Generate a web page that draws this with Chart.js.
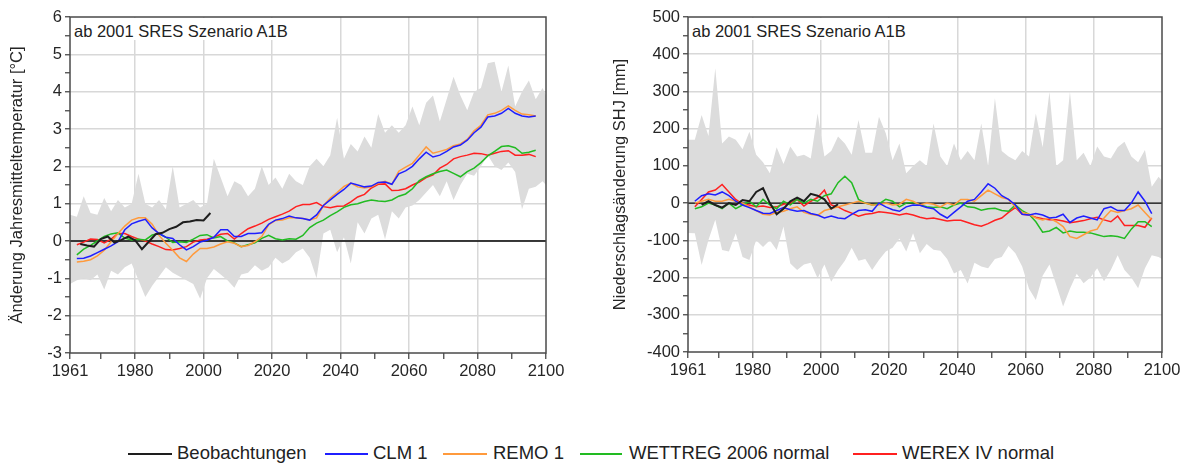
<!DOCTYPE html>
<html><head><meta charset="utf-8">
<script src="https://cdn.jsdelivr.net/npm/chart.js@4.4.1/dist/chart.umd.min.js"></script>
<style>
html,body{margin:0;padding:0;background:#fff;}
body{width:1185px;height:464px;overflow:hidden;position:relative;font-family:"Liberation Sans",Arial,sans-serif;color:#222;}
canvas{position:absolute;top:0;}
#c1{left:0;}
#c2{left:600px;}
.note{position:absolute;top:18px;height:22px;box-sizing:border-box;background:#fff;font-size:16.5px;line-height:20px;padding:3px 4px 0 3px;white-space:nowrap;color:#222;}
.lg-line{position:absolute;top:453px;height:2px;}
.lg-text{position:absolute;top:443px;font-size:18.5px;line-height:20px;white-space:nowrap;color:#222;}
</style>
</head><body>
<canvas id="c1" width="580" height="400"></canvas>
<canvas id="c2" width="585" height="400"></canvas>
<div class="note" style="left:71px;width:229px;">ab 2001 SRES Szenario A1B</div>
<div class="note" style="left:689px;width:228px;">ab 2001 SRES Szenario A1B</div>
<div id="legend"></div>
<script>
// ---------- categories ----------
const lineYears = []; for (let y = 1963; y <= 2097; y += 2) lineYears.push(y);
const bandYears = []; for (let y = 1961; y <= 2099; y += 2) bandYears.push(y); bandYears.push(2100);
const obsYearsT = []; for (let y = 1964; y <= 2002; y += 2) obsYearsT.push(y);
const obsYearsP = []; for (let y = 1965; y <= 2005; y += 2) obsYearsP.push(y);

const seriesNames = ["Beobachtungen", "CLM 1", "REMO 1", "WETTREG 2006 normal", "WEREX IV normal"];
const xTickLabels = [1961, 1980, 2000, 2020, 2040, 2060, 2080, 2100];

// ---------- temperature (left) ----------
const obsT = [-0.08,-0.12,-0.15,0.05,0.12,-0.04,0.03,0.12,0.02,-0.22,
  -0.02,0.18,0.22,0.32,0.38,0.50,0.52,0.56,0.55,0.75];
const clmT = [-0.47,-0.46,-0.40,-0.31,-0.22,-0.13,-0.02,0.30,0.46,0.53,
  0.58,0.35,0.20,0.10,0.07,-0.10,-0.24,-0.15,-0.03,0.02,
  0.10,0.30,0.30,0.12,0.12,0.20,0.20,0.22,0.45,0.56,
  0.60,0.67,0.62,0.60,0.56,0.70,0.95,1.10,1.25,1.38,
  1.55,1.50,1.45,1.47,1.57,1.58,1.52,1.80,1.88,2.00,
  2.20,2.38,2.25,2.30,2.40,2.52,2.57,2.70,2.90,3.05,
  3.32,3.35,3.42,3.55,3.42,3.35,3.32,3.35];
const remoT = [-0.56,-0.54,-0.50,-0.40,-0.25,-0.02,0.20,0.40,0.56,0.62,
  0.62,0.45,0.15,-0.06,-0.25,-0.45,-0.55,-0.35,-0.20,-0.20,
  -0.16,-0.08,-0.02,-0.06,-0.15,-0.12,-0.02,0.12,0.43,0.55,
  0.56,0.62,0.62,0.60,0.56,0.62,0.95,1.15,1.30,1.46,
  1.55,1.45,1.42,1.45,1.55,1.60,1.52,1.87,1.98,2.08,
  2.30,2.52,2.35,2.40,2.45,2.55,2.60,2.72,2.95,3.10,
  3.38,3.42,3.50,3.62,3.50,3.40,3.38,3.35];
const wettT = [-0.37,-0.22,-0.12,0.00,0.12,0.19,0.22,0.08,0.03,0.05,
  0.03,0.16,0.20,0.10,-0.04,-0.02,-0.04,0.05,0.15,0.17,
  0.08,0.12,0.00,-0.05,-0.15,-0.10,-0.05,0.07,0.15,0.06,
  0.03,0.06,0.05,0.15,0.36,0.48,0.56,0.68,0.78,0.90,
  0.97,1.00,1.06,1.10,1.07,1.06,1.10,1.20,1.26,1.40,
  1.62,1.72,1.80,1.86,1.90,1.81,1.72,1.86,1.95,2.10,
  2.28,2.40,2.53,2.55,2.50,2.35,2.38,2.43];
const werexT = [-0.10,-0.03,0.05,0.04,-0.05,0.05,0.20,0.20,0.12,0.05,
  0.00,-0.08,-0.15,-0.23,-0.24,-0.20,-0.15,-0.03,0.03,0.05,
  0.10,0.18,0.20,0.05,0.20,0.33,0.40,0.48,0.58,0.65,
  0.72,0.80,0.92,0.98,0.98,1.03,0.92,0.89,0.93,0.94,
  1.05,1.18,1.25,1.42,1.52,1.53,1.35,1.36,1.40,1.50,
  1.58,1.70,1.77,1.95,2.05,2.20,2.26,2.30,2.35,2.34,
  2.30,2.35,2.40,2.42,2.30,2.30,2.32,2.26];
const bandHiT = [0.70,0.65,1.20,0.75,0.70,1.15,0.80,1.10,0.90,1.00,
  1.80,1.00,0.90,1.10,0.85,2.00,0.90,1.00,1.10,0.90,
  1.00,2.20,1.70,1.20,1.60,1.50,1.20,1.40,2.00,1.50,
  1.70,1.40,1.80,1.60,1.50,2.00,2.20,2.00,2.30,3.30,
  2.20,2.60,2.40,2.80,2.50,3.40,2.90,3.10,2.90,3.10,
  3.60,3.10,3.70,3.90,3.20,3.80,4.40,3.90,3.50,4.00,
  4.10,4.76,4.80,4.00,4.70,3.60,4.00,4.30,3.80,4.10,3.90];
const bandLoT = [-1.15,-1.05,-1.00,-1.05,-0.90,-1.30,-0.80,-0.90,-0.70,-0.60,
  -1.05,-1.50,-1.20,-0.95,-0.70,-0.85,-0.95,-1.05,-1.15,-1.55,
  -1.00,-0.75,-0.90,-1.05,-1.25,-0.90,-0.85,-0.65,-0.80,-0.70,
  -0.45,-0.60,-0.50,-0.30,-0.20,-0.45,-1.00,0.20,0.30,-0.30,
  0.10,-0.60,0.50,0.20,0.60,0.70,0.05,0.80,0.60,0.90,
  0.95,1.10,1.30,1.50,1.20,1.60,1.10,1.50,1.80,1.75,
  2.00,2.30,2.00,1.90,2.10,1.85,0.85,1.40,1.45,1.60,1.50];

// ---------- precipitation (right) ----------
const obsP = [-5,5,-5,-12,0,-5,8,5,30,40,0,-30,-15,5,15,5,25,20,10,-15,-3];
const clmP = [5,20,25,22,30,20,5,-5,-12,-20,
  -27,-28,-20,-12,-18,-22,-20,-28,-32,-40,
  -35,-40,-42,-30,-20,-18,-22,0,-10,-18,
  -22,-10,-5,-6,-12,-15,-30,-40,-25,-10,
  5,10,30,52,40,20,10,-5,-30,-32,
  -28,-32,-40,-38,-30,-52,-40,-35,-40,-45,
  -15,-10,-20,-20,0,30,5,-28];
const remoP = [0,5,10,5,5,10,5,0,-10,-20,
  -30,-32,-25,-22,-15,-10,-25,-30,-33,-20,
  -15,-10,-5,0,5,0,-5,-5,0,-5,
  -3,10,5,-5,0,-3,-10,0,-5,10,
  10,5,20,35,25,15,10,-10,-25,-30,
  -40,-45,-40,-50,-63,-90,-95,-85,-75,-70,
  -40,-20,-25,-20,-15,-5,-25,-45];
const wettP = [-15,-10,0,-5,-15,0,-15,-5,5,-10,
  10,-5,-15,5,-5,10,0,10,5,20,
  25,55,72,55,10,0,-5,-2,10,5,
  -10,0,2,-5,-10,-12,-10,-15,-5,0,
  -10,-12,-19,-15,-14,-20,-22,-5,-20,-30,
  -50,-78,-75,-65,-80,-75,-78,-78,-80,-85,
  -90,-88,-90,-95,-70,-50,-50,-63];
const werexP = [-10,10,30,35,50,30,10,-3,-5,-10,
  -8,-12,-10,-3,0,10,-8,5,15,35,
  -5,-10,-20,-27,-35,-30,-28,-23,-25,-28,
  -32,-28,-32,-38,-42,-40,-44,-48,-46,-46,
  -52,-58,-62,-55,-46,-40,-25,-12,-30,-32,
  -38,-42,-45,-45,-48,-53,-50,-47,-42,-38,
  -45,-50,-35,-60,-60,-60,-65,-40];
const bandHiP = [170,170,237,180,362,160,179,170,145,192,
  130,110,80,150,105,152,125,130,120,241,
  125,140,179,160,130,223,135,135,232,188,
  115,160,80,100,115,100,214,125,100,160,
  115,140,115,214,100,282,140,125,115,140,
  125,241,150,299,100,115,299,115,135,100,
  152,125,120,150,165,125,110,143,44,71,60];
const bandLoP = [-80,-81,-166,-99,-45,-126,-130,-81,-145,-153,
  -100,-118,-100,-126,-63,-162,-180,-165,-160,-202,
  -165,-211,-180,-155,-120,-155,-150,-180,-153,-130,
  -120,-95,-130,-81,-135,-110,-125,-128,-150,-189,
  -180,-216,-160,-170,-175,-150,-145,-115,-135,-170,
  -230,-260,-195,-165,-220,-278,-230,-190,-215,-200,
  -175,-210,-180,-140,-180,-200,-229,-175,-140,-145,-150];

// ---------- styles ----------
const colors = ["#1e1e1e", "#1f1fff", "#ff9a3c", "#22bb22", "#ff2020"];
const widths = [2, 1.5, 1.5, 1.5, 1.5];
const bandColor = "#dcdcdc";
const gridColor = "#d8d8d8";
const textColor = "#262626";
const FONT = "'Liberation Sans', Arial, sans-serif";

const pts = (xs, ys) => xs.map((x, i) => ({x: x, y: ys[i]}));

function lineDs(label, xs, ys, idx, order) {
  return {label, data: pts(xs, ys), borderColor: colors[idx], borderWidth: widths[idx],
    pointRadius: 0, fill: false, tension: 0, order};
}

const framePlugin = {
  id: 'frame',
  afterDatasetsDraw(chart) {
    const a = chart.chartArea, c = chart.ctx;
    c.save();
    c.strokeStyle = '#4a4a4a';
    c.lineWidth = 1.5;
    c.strokeRect(a.left, a.top, a.right - a.left, a.bottom - a.top);
    c.restore();
  }
};

function makeChart(id, cfg) {
  const datasets = [
    {label: 'band-hi', data: pts(bandYears, cfg.hi), borderWidth: 0, pointRadius: 0, fill: false, order: 20, borderColor: 'rgba(0,0,0,0)'},
    {label: 'band-lo', data: pts(bandYears, cfg.lo), borderWidth: 0, pointRadius: 0, fill: '-1', backgroundColor: bandColor, order: 20, borderColor: 'rgba(0,0,0,0)'},
    {label: 'zero', data: [{x: 1961, y: 0}, {x: 2100, y: 0}], borderColor: '#000', borderWidth: 1.3, pointRadius: 0, fill: false, order: 10},
    lineDs(seriesNames[4], lineYears, cfg.series[3], 4, 5),
    lineDs(seriesNames[3], lineYears, cfg.series[2], 3, 4),
    lineDs(seriesNames[2], lineYears, cfg.series[1], 2, 3),
    lineDs(seriesNames[1], lineYears, cfg.series[0], 1, 2),
    lineDs(seriesNames[0], cfg.obsX, cfg.obs, 0, 1)
  ];
  return new Chart(document.getElementById(id), {
    type: 'line',
    data: {datasets},
    plugins: [framePlugin],
    options: {
      responsive: false, animation: false, devicePixelRatio: 1,
      layout: {padding: {left: 0, top: 17, right: cfg.padRight, bottom: 0}},
      plugins: {legend: {display: false}, tooltip: {enabled: false}},
      scales: {
        x: {
          type: 'linear', min: 1961, max: 2100,
          afterBuildTicks: s => {
            const t = [1961]; for (let v = 1970; v <= 2100; v += 10) t.push(v);
            s.ticks = t.map(v => ({value: v}));
          },
          afterFit: s => { s.height = cfg.xHeight; },
          border: {display: false},
          grid: {
            color: c => (c.tick && xTickLabels.includes(c.tick.value) && c.tick.value > 1961 && c.tick.value < 2100) ? gridColor : 'rgba(0,0,0,0)',
            lineWidth: 1.5, tickLength: 6, tickColor: '#4a4a4a', tickWidth: 1.3
          },
          ticks: {
            autoSkip: false, maxRotation: 0, padding: 3, color: textColor,
            font: {family: FONT, size: 16.5},
            callback: v => xTickLabels.includes(v) ? String(v) : ''
          }
        },
        y: {
          type: 'linear', min: cfg.yMin, max: cfg.yMax,
          afterBuildTicks: s => {
            const t = []; for (let v = cfg.yMin; v <= cfg.yMax + 1e-9; v += cfg.yStep / 2) t.push(Math.round(v * 100) / 100);
            s.ticks = t.map(v => ({value: v}));
          },
          afterFit: s => { s.width = cfg.yWidth; },
          border: {display: false},
          grid: {
            color: c => {
              const v = c.tick ? c.tick.value : 0;
              const major = Math.abs(v / cfg.yStep - Math.round(v / cfg.yStep)) < 1e-6;
              return (major && v > cfg.yMin && v < cfg.yMax) ? gridColor : 'rgba(0,0,0,0)';
            },
            lineWidth: 1.5, tickLength: 5, tickColor: '#4a4a4a', tickWidth: 1.3
          },
          ticks: {
            autoSkip: false, padding: 3, color: textColor,
            font: {family: FONT, size: 16.5},
            callback: v => (Math.abs(v / cfg.yStep - Math.round(v / cfg.yStep)) < 1e-6) ? String(v) : ''
          },
          title: {display: true, text: cfg.yTitle, color: textColor,
            font: {family: FONT, size: 16.5}, padding: {top: cfg.titlePad, bottom: 0}}
        }
      }
    }
  });
}

makeChart('c1', {
  hi: bandHiT, lo: bandLoT, series: [clmT, remoT, wettT, werexT], obs: obsT, obsX: obsYearsT,
  yMin: -3, yMax: 6, yStep: 1, yWidth: 70, xHeight: 47, padRight: 34, titlePad: 8,
  yTitle: 'Änderung Jahresmitteltemperatur [°C]'
});
makeChart('c2', {
  hi: bandHiP, lo: bandLoP, series: [clmP, remoP, wettP, werexP], obs: obsP, obsX: obsYearsP,
  yMin: -400, yMax: 500, yStep: 100, yWidth: 88, xHeight: 48, padRight: 23, titlePad: 11,
  yTitle: 'Niederschlagsänderung SHJ [mm]'
});

// ---------- HTML legend ----------
const legendPos = [[128, 172, 177], [325, 368, 373], [443, 487, 493], [580, 622, 629], [853, 897, 902]];
const lg = document.getElementById('legend');
seriesNames.forEach((name, i) => {
  const [x0, x1, tx] = legendPos[i];
  const l = document.createElement('div');
  l.className = 'lg-line';
  l.style.left = x0 + 'px'; l.style.width = (x1 - x0) + 'px'; l.style.background = colors[i];
  lg.appendChild(l);
  const t = document.createElement('div');
  t.className = 'lg-text'; t.style.left = tx + 'px'; t.textContent = name;
  lg.appendChild(t);
});
</script>
</body></html>
